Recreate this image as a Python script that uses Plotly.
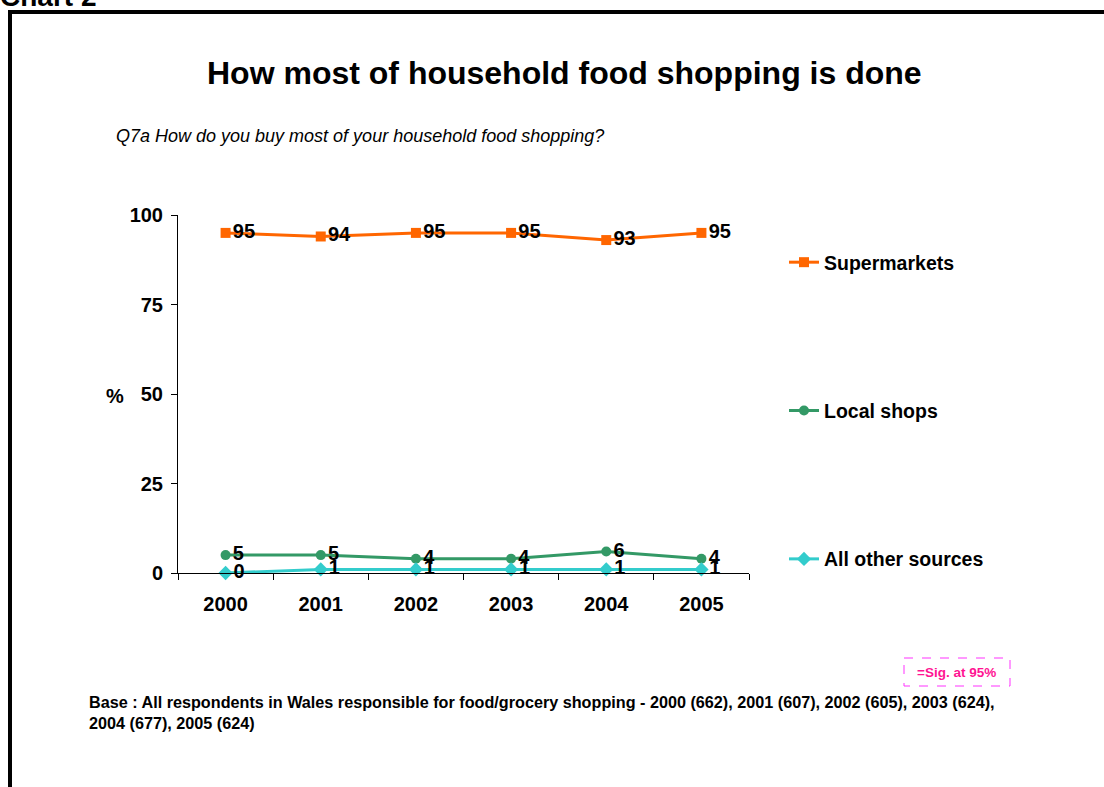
import plotly.graph_objects as go

years = ["2000", "2001", "2002", "2003", "2004", "2005"]
supermarkets = [95, 94, 95, 95, 93, 95]
local_shops = [5, 5, 4, 4, 6, 4]
other_sources = [0, 1, 1, 1, 1, 1]
y_ticks = [0, 25, 50, 75, 100]

W, H = 1104, 787
L, R, T, B = 178, 749, 215, 573  # plot area in pixels


def px(x):
    return (x - L) / (R - L)


def py(y):
    return 1 - (y - T) / (B - T)


FONT = "Liberation Sans, Arial, sans-serif"

fig = go.Figure()

series = [
    ("Supermarkets", supermarkets, "#FF6600", "square", 10),
    ("Local shops", local_shops, "#339966", "circle", 10),
    ("All other sources", other_sources, "#33CCCC", "diamond", 11),
]
for i, (name, vals, col, sym, sz) in enumerate(series):
    fig.add_trace(go.Scatter(
        x=years, y=vals, name=name, legendgroup=f"g{i}",
        mode="lines+markers+text",
        line=dict(color=col, width=3),
        marker=dict(symbol=sym, size=sz, color=col),
        text=[str(v) for v in vals],
        textposition="middle right",
        textfont=dict(family=FONT, size=20, color="black", weight="bold"),
        cliponaxis=False,
    ))

fig.update_layout(
    width=W, height=H,
    margin=dict(l=L, r=W - R, t=T, b=H - B),
    paper_bgcolor="white", plot_bgcolor="white",
    font=dict(family=FONT, color="black"),
    showlegend=True,
    legend=dict(
        x=px(784), y=py(243), xanchor="left", yanchor="top",
        tracegroupgap=120, traceorder="grouped",
        font=dict(family=FONT, size=19.5, color="black", weight="bold"),
        itemwidth=30, bgcolor="rgba(0,0,0,0)",
    ),
    xaxis=dict(
        type="category", range=[-0.5, 5.5],
        showline=True, linecolor="black", linewidth=1,
        ticks="outside", ticklen=6, tickcolor="black", tickson="boundaries",
        tickfont=dict(family=FONT, size=20, color="black", weight="bold"),
        ticklabelstandoff=13, showgrid=False, zeroline=False,
    ),
    yaxis=dict(
        range=[0, 100], tickvals=y_ticks,
        showline=True, linecolor="black", linewidth=1,
        ticks="outside", ticklen=6, tickcolor="black",
        tickfont=dict(family=FONT, size=20, color="black", weight="bold"),
        ticklabelstandoff=4, showgrid=False, zeroline=False,
    ),
)

annotations = [
    dict(text="Chart 2", x=px(-2), y=py(-3), xanchor="left", yanchor="middle",
         font=dict(size=28, weight="bold")),
    dict(text="How most of household food shopping is done", x=px(564), y=py(73),
         xanchor="center", yanchor="middle", font=dict(size=32, weight="bold")),
    dict(text="<i>Q7a How do you buy most of your household food shopping?</i>",
         x=px(114), y=py(136), xanchor="left", yanchor="middle", font=dict(size=18)),
    dict(text="%", x=px(115), y=py(396), xanchor="center", yanchor="middle",
         font=dict(size=20, weight="bold")),
    dict(text="=Sig. at 95%", x=px(957), y=py(672), xanchor="center", yanchor="middle",
         font=dict(size=13.5, weight="bold", color="#FF1493")),
    dict(text="Base : All respondents in Wales responsible for food/grocery shopping - 2000 (662), "
              "2001 (607), 2002 (605), 2003 (624),<br>2004 (677), 2005 (624)",
         x=px(87), y=py(691), xanchor="left", yanchor="top", align="left",
         font=dict(size=16.2, weight="bold")),
]
for a in annotations:
    a.update(xref="paper", yref="paper", showarrow=False)
    a["font"].setdefault("family", FONT)
    a["font"].setdefault("color", "black")
fig.update_layout(annotations=annotations)

shapes = [
    # outer frame
    dict(type="line", x0=px(8), x1=px(1110), y0=py(12), y1=py(12),
         line=dict(color="black", width=4)),
    dict(type="line", x0=px(10), x1=px(10), y0=py(10), y1=py(800),
         line=dict(color="black", width=4)),
    # significance key box
    dict(type="rect", x0=px(904), x1=px(1010), y0=py(658), y1=py(686),
         line=dict(color="#FF33FF", width=1, dash="dash")),
]
for s in shapes:
    s.update(xref="paper", yref="paper")
fig.update_layout(shapes=shapes)

fig.write_html("out.html")
